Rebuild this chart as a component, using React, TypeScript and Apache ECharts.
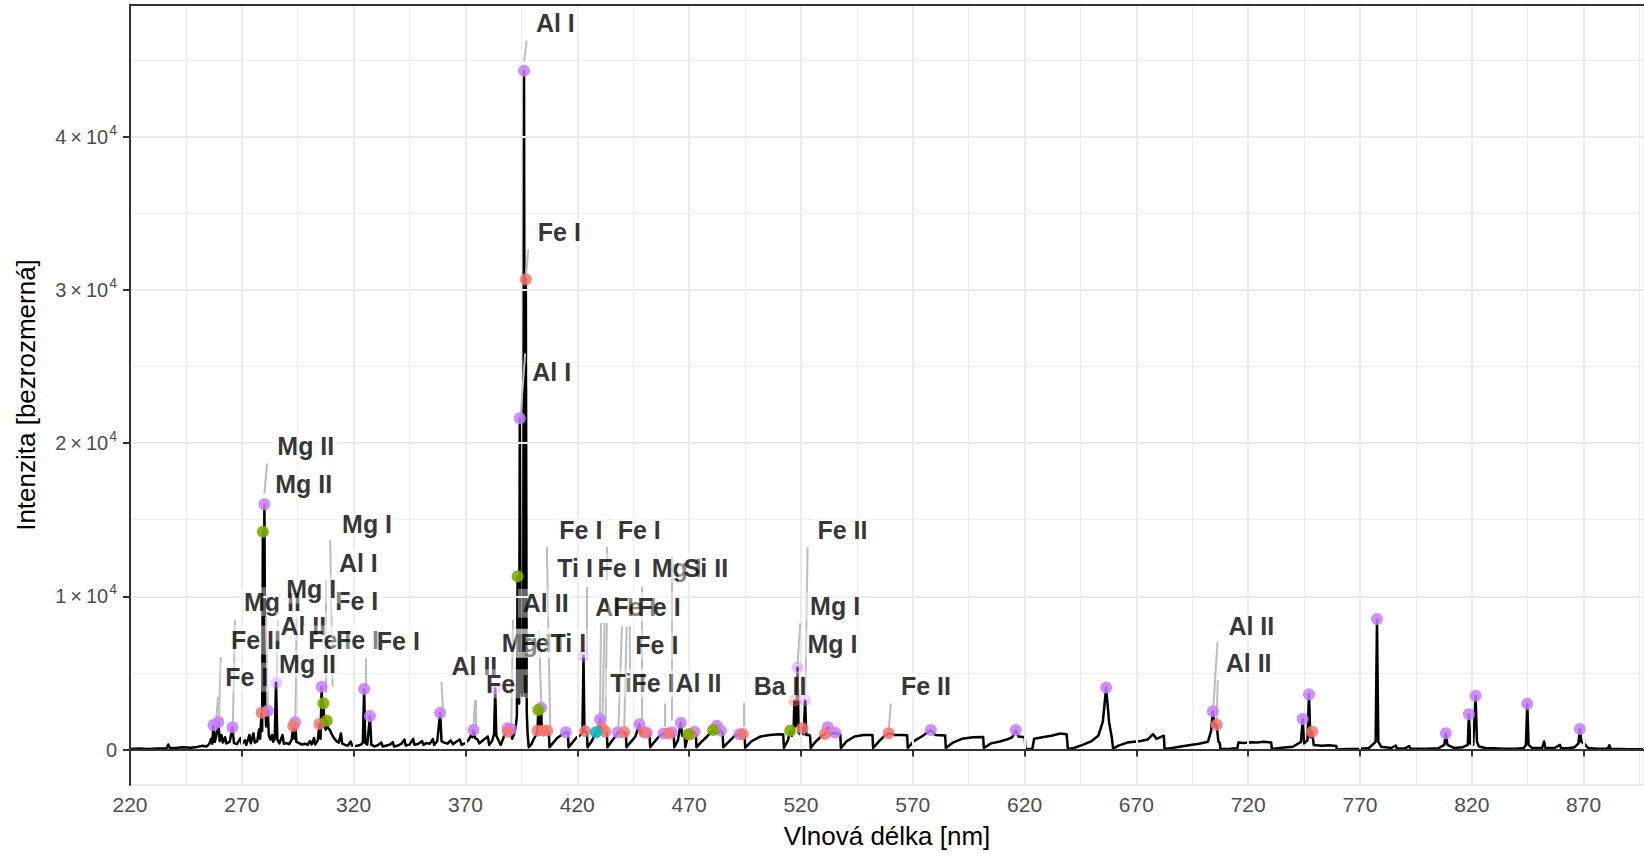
import React, { useEffect, useRef } from 'react';
import * as echarts from 'echarts';

const FONT = '"Liberation Sans", Arial, Helvetica, sans-serif';

// Spectrum: [wavelength nm, intensity]
const spectrum: [number, number][] = [
  [220, 40], [224, 60], [228, 40], [232, 70], [236.4, 90], [237.1, 330], [237.8, 100], [241, 110], [244, 150], [247, 120], [250, 170],
  [252.6, 250], [254.2, 200], [255.4, 350], [256.3, 700], [256.8, 380], [257.3, 1600], [257.9, 500], [258.6, 900], [259.5, 1800],
  [260.1, 550], [260.9, 950], [261.5, 450], [262.5, 800], [263.1, 400], [264.6, 500], [265.8, 1450], [266.5, 420], [267.8, 350],
  [269.4, 750], [270.0, 350], [271.4, 600], [272.0, 300], [273.4, 950], [274.0, 400], [275.2, 1050], [275.8, 450], [276.9, 550],
  [277.7, 1300], [278.2, 700], [278.8, 2400], [279.1, 1200], [279.4, 14220], [279.75, 2500], [280.1, 16010], [280.5, 2600],
  [280.9, 1500], [281.6, 2530], [282.1, 900], [282.8, 650], [283.5, 950], [284.0, 500], [284.7, 700], [285.3, 4360], [285.9, 650],
  [286.8, 400], [288.2, 950], [288.8, 380], [290.0, 420], [291.2, 350], [292.3, 650], [293.0, 1530], [293.4, 700], [293.8, 1780],
  [294.4, 500], [295.6, 420], [296.8, 320], [298.3, 380], [299.4, 300], [300.4, 550], [301.2, 330], [302.3, 750], [302.8, 320],
  [304.0, 600], [304.7, 1670], [305.2, 700], [305.7, 4100], [306.1, 1500], [306.5, 3020], [307.0, 1500], [307.5, 1300], [308.0, 1880],
  [308.5, 1400], [309.3, 1300], [310.2, 1000], [311.2, 750], [312.3, 550], [313.4, 450], [314.3, 1050], [314.9, 380], [316.2, 300],
  [317.5, 260], [318.7, 520], [319.3, 260], [320.6, 220], [322.0, 260], [323.3, 320], [324.1, 450], [324.7, 3950], [325.2, 420],
  [326.1, 320], [327.3, 2190], [327.9, 320], [329.3, 200], [330.8, 280], [332.4, 450], [333.0, 200], [334.8, 260], [336.4, 330],
  [337.5, 480], [338.1, 200], [339.9, 260], [341.4, 380], [342.7, 650], [343.3, 260], [345.0, 320], [346.6, 700], [347.2, 300],
  [349.0, 380], [350.6, 550], [351.2, 300], [352.5, 420], [354.1, 380], [355.4, 680], [356.0, 300], [357.4, 550], [358.7, 2400],
  [359.3, 550], [360.5, 450], [362.0, 380], [363.4, 600], [364.4, 350], [366.0, 520], [367.5, 650], [368.3, 300], [369.9, 420],
  [371.5, 650], [372.6, 950], [373.1, 800], [373.6, 1270], [374.3, 750], [375.4, 650], [376.2, 400], [378.0, 620], [380.0, 850],
  [380.6, 300], [381.9, 550], [382.8, 1000], [383.3, 3990], [383.8, 900], [384.6, 650], [385.8, 300], [387.2, 850], [388.2, 1000],
  [388.8, 1380], [389.5, 1100], [390.3, 1340], [390.9, 700], [391.7, 1000], [392.5, 1500], [393.0, 2200], [393.3, 11300],
  [393.7, 3500], [394.0, 3000], [394.3, 21620], [394.7, 4500], [395.3, 3500], [395.8, 5000], [396.2, 44310], [396.6, 3500],
  [397.0, 30690], [397.4, 2500], [397.8, 1000], [398.3, 150], [399.5, 350], [400.6, 700], [401.4, 900], [402.2, 1230], [402.6, 2580],
  [403.0, 1100], [403.4, 1000], [403.8, 2730], [404.2, 1100], [404.9, 1230], [405.6, 1050], [406.6, 1230], [407.3, 1050], [407.6, 150],
  [409.0, 400], [411.0, 750], [413.0, 950], [414.9, 1130], [415.8, 1100], [416.1, 150], [417.8, 450], [419.8, 800], [421.5, 950],
  [422.3, 1100], [422.8, 6120], [423.2, 1150], [423.5, 1200], [424.3, 1100], [424.6, 150], [426.3, 500], [427.6, 900], [428.4, 1130],
  [429.5, 1100], [430.2, 1970], [430.7, 1200], [431.0, 1380], [431.7, 1100], [432.5, 1160], [433.2, 1050], [433.5, 150], [435.2, 500],
  [437.0, 850], [438.1, 1120], [439.5, 1050], [441.0, 1120], [441.7, 1050], [442.0, 150], [444.0, 500], [446.0, 850], [447.8, 1650],
  [448.4, 1000], [449.9, 1120], [451.1, 1100], [452.3, 1050], [452.6, 150], [454.5, 500], [456.5, 850], [458.6, 1050], [459.5, 1000],
  [460.8, 1050], [462.3, 1120], [463.1, 1000], [463.4, 150], [465.0, 600], [466.3, 1750], [466.9, 900], [468.0, 950], [468.3, 150],
  [469.7, 1000], [470.5, 1000], [471.6, 950], [472.4, 1160], [473.0, 1000], [473.3, 150], [475.5, 500], [478.0, 850], [480.8, 1270],
  [481.4, 1050], [482.4, 1550], [483.0, 1100], [484.2, 1230], [485.0, 1050], [485.3, 150], [488.0, 550], [490.5, 900], [492.5, 1000],
  [494.0, 1010], [494.8, 1000], [495.1, 120], [498.0, 550], [502.0, 850], [506.0, 950], [510.0, 1000], [512.1, 980], [512.4, 100],
  [514.2, 600], [515.2, 1230], [516.0, 900], [516.7, 1200], [517.1, 3190], [517.5, 1500], [518.0, 1600], [518.5, 5340], [519.0, 1100],
  [520.0, 950], [520.7, 1380], [521.2, 1000], [521.9, 3230], [522.4, 950], [523.5, 950], [524.1, 900], [524.4, 100], [526.5, 500],
  [529.0, 850], [530.8, 1010], [532.0, 1450], [533.0, 1000], [535.3, 1100], [536.5, 1000], [537.6, 980], [537.9, 100], [540.5, 550],
  [544.0, 850], [548.0, 950], [552.0, 950], [552.3, 100], [555.0, 550], [557.5, 900], [559.2, 1060], [562.0, 950], [565.0, 950],
  [567.5, 930], [567.8, 100], [570.5, 550], [574.0, 850], [578.1, 1270], [580.0, 950], [584.5, 920], [584.8, 100], [588.0, 450],
  [592.0, 700], [597.0, 800], [601.5, 820], [601.8, 100], [605.0, 400], [609.0, 520], [612.0, 650], [614.5, 800], [616.1, 1270],
  [617.3, 850], [620.1, 800], [620.4, 40], [623.5, 50], [624.3, 700], [628.0, 800], [632.0, 900], [636.0, 1050], [638.8, 1000],
  [639.4, 40], [642.0, 100], [646.0, 300], [650.0, 550], [653.0, 900], [655.0, 1800], [656.5, 4040], [657.8, 1800], [659.0, 800],
  [659.6, 60], [662.0, 250], [666.0, 450], [669.0, 500], [672.0, 550], [675.0, 650], [677.5, 1000], [679.0, 700], [682.3, 900],
  [682.6, 40], [686.0, 100], [692.0, 250], [698.0, 380], [702.0, 500], [703.4, 1200], [704.2, 2490], [705.0, 1500], [705.9, 1620],
  [706.7, 500], [707.3, 450], [707.6, 30], [712.0, 50], [715.2, 80], [715.6, 450], [718.0, 420], [721.0, 480], [724.0, 450],
  [727.0, 500], [730.3, 450], [730.6, 40], [735.0, 120], [740.0, 180], [743.6, 500], [744.4, 1990], [745.0, 400], [746.5, 600],
  [747.2, 3600], [747.8, 800], [748.6, 1160], [749.3, 300], [753.0, 250], [756.0, 280], [759.4, 230], [759.7, 0], [765.0, 30],
  [770.0, 50], [774.0, 100], [777.0, 500], [777.6, 8520], [778.2, 500], [779.5, 180], [784.0, 100], [786.0, 260], [786.5, 80],
  [790.0, 60], [792.0, 230], [792.5, 60], [800.0, 50], [805.0, 80], [807.7, 300], [808.4, 1060], [809.1, 300], [812.0, 100],
  [816.0, 150], [818.2, 300], [818.7, 2300], [819.3, 400], [820.6, 300], [821.7, 3510], [822.3, 500], [823.2, 200], [826.0, 100],
  [835.0, 50], [840.0, 50], [843.2, 100], [844.2, 300], [844.8, 2990], [845.4, 300], [847.0, 100], [851.5, 100], [852.3, 520],
  [852.9, 100], [857.0, 100], [859.4, 300], [859.9, 80], [863.0, 80], [866.0, 150], [867.7, 400], [868.3, 1340], [869.0, 500],
  [870.2, 380], [872.0, 100], [876.0, 50], [880.8, 60], [881.5, 280], [882.1, 50], [890.0, 20], [897.0, 10],
];

// Identified lines, by colour group
const purplePoints: [number, number][] = [
  [257.3, 1600], [259.5, 1800], [265.8, 1450], [280.1, 16010], [281.6, 2530], [293.8, 1780], [305.7, 4100], [324.7, 3950],
  [327.3, 2190], [358.7, 2400], [373.6, 1270], [388.8, 1380], [390.3, 1340], [394.3, 21620], [396.2, 44310], [403.8, 2730],
  [414.9, 1130], [430.2, 1970], [438.1, 1120], [447.8, 1650], [451.1, 1100], [458.6, 1050], [462.3, 1120], [466.3, 1750],
  [472.4, 1160], [482.4, 1550], [484.2, 1230], [492.5, 1000], [532.0, 1450], [535.3, 1100], [578.1, 1270], [616.1, 1270],
  [656.5, 4040], [704.2, 2490], [744.4, 1990], [747.2, 3600], [777.6, 8520], [808.4, 1060], [818.7, 2300], [821.7, 3510],
  [844.8, 2990], [868.3, 1340],
];
const palePurplePoints: [number, number][] = [[285.3, 4360], [383.3, 3990], [422.8, 6120], [518.5, 5340], [521.9, 3230]];
const redPoints: [number, number][] = [
  [278.8, 2400], [293.0, 1530], [304.7, 1670], [388.9, 1160], [397.0, 30690], [402.2, 1230], [404.9, 1230], [406.6, 1230],
  [423.5, 1200], [431.0, 1380], [432.5, 1160], [441.0, 1120], [449.9, 1120], [460.8, 1050], [470.5, 1000], [494.0, 1010],
  [520.7, 1380], [530.8, 1010], [559.2, 1060], [705.9, 1620], [748.6, 1160],
];
const paleRedPoints: [number, number][] = [[517.1, 3190]];
const greenPoints: [number, number][] = [
  [279.4, 14220], [306.5, 3020], [308.0, 1880], [393.3, 11300], [402.6, 2580], [469.7, 1000], [480.8, 1270], [515.2, 1230],
];
const cyanPoints: [number, number][] = [[428.4, 1130]];

// Labels: [text, label centre nm, label centre intensity]
const labels: [string, number, number][] = [
  ['Al I', 410.2, 47400], ['Fe I', 412.0, 33800], ['Al I', 408.6, 24660],
  ['Mg II', 298.6, 19830], ['Mg II', 297.7, 17320], ['Mg I', 326.0, 14720], ['Al I', 322.1, 12200], ['Fe I', 321.4, 9710],
  ['Mg II', 283.7, 9650], ['Mg I', 301.0, 10480], ['Fe II', 276.3, 7150], ['Al II', 297.5, 8040],
  ['Fe I', 309.3, 7150], ['Fe I', 321.7, 7150], ['Fe I', 340.0, 7100], ['Mg II', 299.4, 5580], ['Fe I', 272.2, 4710],
  ['Al II', 374.0, 5480], ['Fe I', 388.8, 4300], ['Mg I', 397.4, 6930], ['Fe I', 404.1, 6930], ['Ti I', 416.0, 6930],
  ['Al II', 405.9, 9540], ['Fe I', 421.6, 14330], ['Fe I', 447.7, 14330], ['Ti I', 419.0, 11830], ['Fe I', 438.7, 11830],
  ['Mg I', 464.5, 11830], ['Si II', 477.5, 11830], ['Al I', 436.7, 9320], ['Fe I', 445.7, 9320], ['Fe I', 456.6, 9320],
  ['Fe I', 455.6, 6820], ['Ti I', 442.7, 4320], ['Fe I', 453.9, 4320], ['Al II', 474.2, 4320], ['Ba II', 510.7, 4145],
  ['Fe II', 538.6, 14330], ['Mg I', 535.3, 9380], ['Mg I', 534.1, 6885], ['Fe II', 575.9, 4145],
  ['Al II', 721.4, 8060], ['Al II', 720.2, 5630],
];

// Connector segments: [nm1, val1, nm2, val2]
const segments: [number, number, number, number][] = [
  [396.2, 44900, 397.4, 46260], [397.1, 30970, 398.1, 32650], [394.7, 21830, 396.7, 25860], [280.1, 16700, 281.3, 18680],
  [259.8, 2100, 260.6, 6020], [266.0, 1800, 267.0, 8450], [258.5, 1900, 259.4, 3430], [281.7, 2580, 280.8, 8650],
  [285.6, 4700, 286.2, 8450], [294.0, 2100, 294.5, 8580], [310.6, 4100, 309.5, 13670], [307.7, 3690, 307.7, 11060],
  [325.6, 4080, 325.6, 5950], [359.9, 2580, 359.3, 4425], [374.6, 1490, 374.6, 3230], [390.5, 1700, 391.3, 8450],
  [403.9, 3000, 402.8, 7800], [407.9, 1490, 406.4, 13240], [424.3, 6280, 424.3, 10630], [430.2, 2300, 430.6, 8260],
  [431.2, 1500, 432.2, 8260], [432.6, 1400, 433.2, 8260], [433.2, 11060, 433.2, 13240], [438.4, 1470, 440.0, 8040],
  [441.0, 1470, 442.1, 8040], [443.6, 4500, 443.6, 8040], [448.8, 1900, 448.8, 10630], [459.2, 1500, 459.2, 3000],
  [462.3, 1900, 462.3, 12580], [494.3, 1490, 494.3, 3020], [518.5, 5600, 519.7, 8240], [522.0, 3500, 523.0, 13240],
  [559.3, 1300, 560.2, 3020], [704.4, 2700, 706.3, 7040], [705.9, 1800, 706.4, 4540], [373.6, 1500, 374.3, 3230],
];

const X_MIN = 220;
const X_MAX = 897;
const Y_MIN = -2317;
const Y_MAX = 48597;

export default function App() {
  const ref = useRef<HTMLDivElement>(null);
  useEffect(() => {
    const chart = echarts.init(ref.current!, undefined, { renderer: 'svg' });
    const pointSeries = (data: [number, number][], color: string, opacity: number) => ({
      type: 'scatter',
      data,
      symbolSize: 12,
      silent: true,
      z: 4,
      itemStyle: { color, opacity },
    });
    const hiddenAxisParts = { axisTick: { show: false }, axisLabel: { show: false } };
    chart.setOption({
      animation: false,
      backgroundColor: '#ffffff',
      grid: { left: 130, right: 0, top: 5, bottom: 72, show: false },
      xAxis: [
        {
          type: 'value', min: X_MIN, max: X_MAX, interval: 50, position: 'bottom', z: 3,
          name: 'Vlnová délka [nm]', nameLocation: 'middle', nameGap: 38,
          nameTextStyle: { fontSize: 26, color: '#000', fontFamily: FONT },
          axisLine: { show: true, lineStyle: { color: '#333333', width: 2 } },
          axisTick: { show: true, length: 7, lineStyle: { color: '#333333', width: 2 } },
          axisLabel: { fontSize: 21, color: '#4D4D4D', fontFamily: FONT, margin: 9, showMaxLabel: false, showMinLabel: true },
          splitLine: { show: true, lineStyle: { color: '#EBEBEB', width: 2 } },
        },
        {
          type: 'value', min: X_MIN, max: X_MAX, interval: 25, position: 'bottom', z: 0,
          axisLine: { show: false }, ...hiddenAxisParts,
          splitLine: { show: true, lineStyle: { color: '#EBEBEB', width: 1 } },
        },
        {
          type: 'value', min: X_MIN, max: X_MAX, interval: 50, position: 'top', z: 5,
          axisLine: { show: true, lineStyle: { color: '#333333', width: 2 } }, ...hiddenAxisParts,
          splitLine: { show: false },
        },
      ],
      yAxis: [
        {
          type: 'value', min: Y_MIN, max: Y_MAX, minInterval: 10000, maxInterval: 10000, position: 'left', z: 3,
          name: 'Intenzita [bezrozmerná]', nameLocation: 'middle', nameGap: 91, nameRotate: 90,
          nameTextStyle: { fontSize: 26, color: '#000', fontFamily: FONT },
          axisLine: { show: true, lineStyle: { color: '#333333', width: 2 } },
          axisTick: { show: true, length: 7, lineStyle: { color: '#333333', width: 2 } },
          axisLabel: {
            margin: 13, showMinLabel: false, showMaxLabel: false,
            formatter: (v: number) => {
              if (Math.abs(v) < 1e-6) return '{a|0}';
              const m = Math.round(v / 10000);
              return `{a|${m}\u2009×\u200910}{s|4}`;
            },
            rich: {
              a: { fontSize: 20, color: '#4D4D4D', fontFamily: FONT },
              s: { fontSize: 14, color: '#4D4D4D', fontFamily: FONT, padding: [0, 0, 14, 1] },
            },
          },
          splitLine: { show: true, lineStyle: { color: '#EBEBEB', width: 2 } },
        },
        {
          type: 'value', min: Y_MIN, max: Y_MAX, minInterval: 5000, maxInterval: 5000, position: 'left', z: 0,
          axisLine: { show: false }, ...hiddenAxisParts,
          splitLine: { show: true, lineStyle: { color: '#EBEBEB', width: 1 } },
        },
      ],
      series: [
        {
          type: 'line', data: spectrum, showSymbol: false, symbol: 'none', silent: true, z: 2,
          lineStyle: { color: '#000000', width: 2.5, join: 'round' },
        },
        {
          type: 'lines', coordinateSystem: 'cartesian2d', silent: true, z: 3,
          data: segments.map(([a, b, c, d]) => ({ coords: [[a, b], [c, d]] })),
          lineStyle: { color: '#BDBDBD', width: 2, opacity: 1 },
        },
        pointSeries(purplePoints, '#C77CFF', 0.85),
        pointSeries(palePurplePoints, '#C77CFF', 0.45),
        pointSeries(redPoints, '#F8766D', 0.85),
        pointSeries(paleRedPoints, '#F8766D', 0.45),
        pointSeries(greenPoints, '#7CAE00', 0.9),
        pointSeries(cyanPoints, '#00BFC4', 0.9),
        {
          type: 'scatter', silent: true, z: 6, symbolSize: 1,
          itemStyle: { color: 'rgba(0,0,0,0)' },
          data: labels.map(([t, x, y]) => ({ name: t, value: [x, y] })),
          label: {
            show: true, position: 'inside', formatter: '{b}',
            fontSize: 25, fontWeight: 'bold', color: '#000', fontFamily: FONT,
            backgroundColor: 'rgba(255,255,255,0.5)', padding: [3, 5, 1, 5],
          },
        },
      ],
    });
    return () => chart.dispose();
  }, []);
  return (
    <div
      ref={ref}
      style={{ position: 'fixed', left: 0, top: 0, width: 1644, height: 857, background: '#fff' }}
    />
  );
}
